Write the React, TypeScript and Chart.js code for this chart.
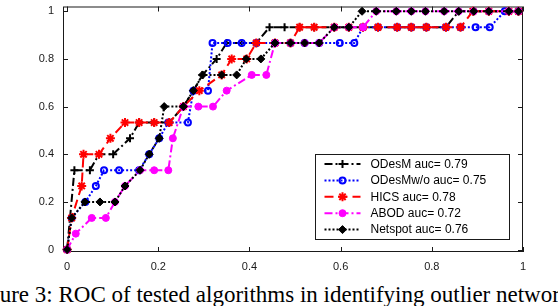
import React, { useEffect, useRef } from 'react';
import { Chart, registerables } from 'chart.js';

Chart.register(...registerables);

// ---------- data ----------
const seriesLabels = [
  'ODesM auc= 0.79',
  'ODesMw/o auc= 0.75',
  'HICS auc= 0.78',
  'ABOD auc= 0.72',
  'Netspot auc= 0.76',
];

const odesmX = [0, 0.016, 0.05, 0.07, 0.101, 0.138, 0.158, 0.191, 0.224, 0.255, 0.277, 0.297, 0.328, 0.35, 0.383, 0.415, 0.444, 0.477, 0.51, 0.542, 0.586, 0.618, 0.649, 0.682, 0.724, 0.755, 0.788, 0.831, 0.859, 0.892, 0.925, 0.969, 0.99];
const odesmY = [0, 0.333, 0.333, 0.4, 0.4, 0.467, 0.533, 0.533, 0.533, 0.6, 0.667, 0.733, 0.8, 0.867, 0.867, 0.867, 0.933, 0.933, 0.933, 0.933, 0.933, 0.933, 0.933, 0.933, 0.933, 0.933, 0.933, 0.933, 1, 1, 1, 1, 1];

const odesmWoX = [0, 0.01, 0.04, 0.063, 0.081, 0.114, 0.158, 0.18, 0.202, 0.222, 0.265, 0.277, 0.309, 0.319, 0.352, 0.383, 0.415, 0.456, 0.49, 0.521, 0.553, 0.598, 0.63, 0.649, 0.682, 0.724, 0.755, 0.788, 0.831, 0.863, 0.896, 0.927, 0.96, 0.99];
const odesmWoY = [0, 0.133, 0.2, 0.267, 0.333, 0.333, 0.333, 0.4, 0.467, 0.533, 0.533, 0.667, 0.667, 0.867, 0.867, 0.867, 0.867, 0.867, 0.867, 0.867, 0.867, 0.867, 0.867, 0.933, 0.933, 0.933, 0.933, 0.933, 0.933, 0.933, 0.933, 0.933, 1, 1];

const hicsX = [0, 0.01, 0.032, 0.036, 0.07, 0.095, 0.127, 0.158, 0.191, 0.224, 0.255, 0.29, 0.339, 0.361, 0.394, 0.415, 0.456, 0.49, 0.51, 0.542, 0.586, 0.618, 0.649, 0.682, 0.724, 0.755, 0.788, 0.831, 0.863, 0.89, 0.925, 0.969, 0.99];
const hicsY = [0, 0.133, 0.267, 0.4, 0.4, 0.467, 0.533, 0.533, 0.533, 0.533, 0.6, 0.667, 0.733, 0.8, 0.8, 0.867, 0.867, 0.867, 0.933, 0.933, 0.933, 0.933, 0.933, 0.933, 0.933, 0.933, 0.933, 0.933, 0.933, 1, 1, 1, 1];

const abodX = [0, 0.019, 0.054, 0.085, 0.105, 0.127, 0.16, 0.191, 0.222, 0.232, 0.255, 0.288, 0.32, 0.35, 0.405, 0.437, 0.456, 0.49, 0.521, 0.553, 0.586, 0.618, 0.649, 0.678, 0.722, 0.755, 0.786, 0.827, 0.859, 0.892, 0.925, 0.969, 0.99];
const abodY = [0, 0.067, 0.133, 0.133, 0.2, 0.267, 0.333, 0.333, 0.333, 0.467, 0.6, 0.6, 0.6, 0.667, 0.733, 0.733, 0.867, 0.867, 0.867, 0.867, 0.933, 0.933, 0.933, 1, 1, 1, 1, 1, 1, 1, 1, 1, 1];

const netspotX = [0, 0.01, 0.039, 0.072, 0.105, 0.127, 0.16, 0.18, 0.202, 0.213, 0.255, 0.277, 0.297, 0.339, 0.372, 0.393, 0.425, 0.456, 0.49, 0.521, 0.553, 0.586, 0.618, 0.647, 0.678, 0.722, 0.755, 0.786, 0.827, 0.859, 0.892, 0.925, 0.969, 0.99];
const netspotY = [0, 0.133, 0.2, 0.2, 0.2, 0.267, 0.333, 0.4, 0.467, 0.6, 0.6, 0.667, 0.733, 0.733, 0.733, 0.8, 0.8, 0.867, 0.867, 0.867, 0.867, 0.933, 0.933, 1, 1, 1, 1, 1, 1, 1, 1, 1, 1, 1];

const xTickValues = [0, 0.2, 0.4, 0.6, 0.8, 1];
const xTickLabels = ['0', '0.2', '0.4', '0.6', '0.8', '1'];
const yTickValues = [0, 0.2, 0.4, 0.6, 0.8, 1];
const yTickLabels = ['0', '0.2', '0.4', '0.6', '0.8', '1'];

const captionText = 'Figure 3: ROC of tested algorithms in identifying outlier network';

// ---------- styles ----------
const seriesStyles = [
  { color: '#000000', dash: [8, 3, 2, 3], marker: 'cross', radius: 4, fill: 'rgba(0,0,0,0)', mw: 2 },
  { color: '#0000ff', dash: [2, 2], marker: 'circle', radius: 3, fill: 'rgba(0,0,0,0)', mw: 2 },
  { color: '#ff0000', dash: [9, 5], marker: 'star', radius: 4.5, fill: 'rgba(0,0,0,0)', mw: 2 },
  { color: '#ff00ff', dash: [8, 3, 2, 3], marker: 'circle', radius: 3.5, fill: '#ff00ff', mw: 1 },
  { color: '#000000', dash: [2, 2], marker: 'rectRot', radius: 4, fill: '#000000', mw: 1 },
];

const FONT = "'Liberation Sans', Arial, Helvetica, sans-serif";
const AXIS_COLOR = '#1a1a1a';

const toPoints = (xs: number[], ys: number[]) => xs.map((x, i) => ({ x, y: ys[i] }));

function drawMarker(ctx: CanvasRenderingContext2D, style: string, x: number, y: number, r: number, fill: string, stroke: string, bw: number) {
  ctx.save();
  ctx.setLineDash([]);
  ctx.lineWidth = bw;
  ctx.strokeStyle = stroke;
  ctx.fillStyle = fill;
  ctx.beginPath();
  if (style === 'circle') {
    ctx.arc(x, y, r, 0, Math.PI * 2);
    ctx.fill();
    ctx.stroke();
  } else if (style === 'rectRot') {
    ctx.moveTo(x - r, y);
    ctx.lineTo(x, y - r);
    ctx.lineTo(x + r, y);
    ctx.lineTo(x, y + r);
    ctx.closePath();
    ctx.fill();
    ctx.stroke();
  } else if (style === 'cross') {
    ctx.moveTo(x - r, y);
    ctx.lineTo(x + r, y);
    ctx.moveTo(x, y - r);
    ctx.lineTo(x, y + r);
    ctx.stroke();
  } else if (style === 'star') {
    const d = r * Math.SQRT1_2;
    ctx.moveTo(x - r, y);
    ctx.lineTo(x + r, y);
    ctx.moveTo(x, y - r);
    ctx.lineTo(x, y + r);
    ctx.moveTo(x - d, y - d);
    ctx.lineTo(x + d, y + d);
    ctx.moveTo(x - d, y + d);
    ctx.lineTo(x + d, y - d);
    ctx.stroke();
  }
  ctx.restore();
}

const framePlugin = {
  id: 'matlabFrame',
  beforeDatasetsDraw(chart: any) {
    const { ctx, chartArea } = chart;
    const { left, top, right, bottom } = chartArea;
    const xs = chart.scales.x;
    const ys = chart.scales.y;
    ctx.save();
    ctx.strokeStyle = AXIS_COLOR;
    ctx.lineWidth = 1;
    ctx.setLineDash([]);
    ctx.strokeRect(left + 0.5, top + 0.5, right - left - 1, bottom - top - 1);
    ctx.beginPath();
    const tl = 5;
    xTickValues.forEach((v) => {
      const px = Math.round(xs.getPixelForValue(v)) + 0.5;
      ctx.moveTo(px, bottom);
      ctx.lineTo(px, bottom - tl);
      ctx.moveTo(px, top);
      ctx.lineTo(px, top + tl);
    });
    yTickValues.forEach((v) => {
      const py = Math.round(ys.getPixelForValue(v)) + 0.5;
      ctx.moveTo(left, py);
      ctx.lineTo(left + tl, py);
      ctx.moveTo(right, py);
      ctx.lineTo(right - tl, py);
    });
    ctx.stroke();
    ctx.restore();
  },
};

const legendPlugin = {
  id: 'matlabLegend',
  afterDraw(chart: any) {
    const { ctx, chartArea } = chart;
    const right = chartArea.right - 13.5;
    const bottom = chartArea.bottom - 12.5;
    const left = 315.5;
    const rowH = 16.4;
    const n = seriesLabels.length;
    const top = bottom - n * rowH - 3;
    ctx.save();
    ctx.fillStyle = '#ffffff';
    ctx.fillRect(left, top, right - left, bottom - top);
    ctx.strokeStyle = AXIS_COLOR;
    ctx.lineWidth = 1;
    ctx.strokeRect(left, top, right - left, bottom - top);
    ctx.font = `12px ${FONT}`;
    ctx.textBaseline = 'middle';
    ctx.textAlign = 'left';
    for (let i = 0; i < n; i++) {
      const st = seriesStyles[i];
      const cy = top + 9.5 + i * rowH;
      ctx.save();
      ctx.strokeStyle = st.color;
      ctx.lineWidth = 2;
      ctx.setLineDash(st.dash);
      ctx.beginPath();
      ctx.moveTo(left + 9, cy);
      ctx.lineTo(left + 45, cy);
      ctx.stroke();
      ctx.restore();
      drawMarker(ctx, st.marker, left + 27, cy, st.radius, st.fill, st.color, st.mw);
      ctx.fillStyle = '#000000';
      ctx.fillText(seriesLabels[i], left + 55, cy + 0.5);
    }
    ctx.restore();
  },
};

export default function App() {
  const canvasRef = useRef<HTMLCanvasElement | null>(null);

  useEffect(() => {
    const canvas = canvasRef.current;
    if (!canvas) return;
    const xsList = [odesmX, odesmWoX, hicsX, abodX, netspotX];
    const ysList = [odesmY, odesmWoY, hicsY, abodY, netspotY];
    const datasets = seriesLabels.map((label, i) => {
      const st = seriesStyles[i];
      return {
        label,
        data: toPoints(xsList[i], ysList[i]),
        borderColor: st.color,
        backgroundColor: st.fill,
        borderWidth: 2,
        borderDash: st.dash,
        pointStyle: st.marker,
        pointRadius: st.radius,
        pointBorderWidth: st.mw,
        pointBorderColor: st.color,
        pointBackgroundColor: st.fill,
        tension: 0,
        fill: false,
        clip: false as any,
        order: seriesLabels.length - 1 - i,
      };
    });

    const tickFont = { family: FONT, size: 11 };

    const chart = new Chart(canvas, {
      type: 'line',
      data: { datasets: datasets as any },
      options: {
        responsive: false,
        animation: false,
        events: [],
        layout: { padding: { left: 0, right: 35, top: 1, bottom: 0 } },
        plugins: {
          legend: { display: false },
          tooltip: { enabled: false },
        },
        scales: {
          x: {
            type: 'linear',
            min: -0.009,
            max: 1.0,
            grid: { display: false, drawTicks: false },
            border: { display: false },
            afterBuildTicks: (s: any) => {
              s.ticks = xTickValues.map((v) => ({ value: v }));
            },
            afterFit: (s: any) => {
              s.height = 28;
              s.paddingLeft = 0;
              s.paddingRight = 0;
            },
            ticks: {
              padding: 8,
              color: '#1a1a1a',
              font: tickFont,
              maxRotation: 0,
              autoSkip: false,
              callback: (v: any) => xTickLabels[xTickValues.indexOf(Number(v))] ?? '',
            },
          },
          y: {
            type: 'linear',
            min: -0.01,
            max: 1.02,
            grid: { display: false, drawTicks: false },
            border: { display: false },
            afterBuildTicks: (s: any) => {
              s.ticks = yTickValues.map((v) => ({ value: v }));
            },
            afterFit: (s: any) => {
              s.width = 63;
              s.paddingTop = 0;
              s.paddingBottom = 0;
            },
            ticks: {
              padding: 9,
              color: '#1a1a1a',
              font: tickFont,
              autoSkip: false,
              callback: (v: any) => yTickLabels[yTickValues.indexOf(Number(v))] ?? '',
            },
          },
        },
      },
      plugins: [framePlugin, legendPlugin],
    });
    return () => chart.destroy();
  }, []);

  return (
    <div style={{ position: 'absolute', left: 0, top: 0, width: 558, height: 306, overflow: 'hidden', background: '#ffffff' }}>
      <canvas ref={canvasRef} width={558} height={280} style={{ display: 'block' }} />
      <div
        style={{
          position: 'absolute',
          left: -31,
          top: 283,
          fontFamily: "'Liberation Serif', 'Times New Roman', serif",
          fontSize: 23,
          lineHeight: '23px',
          whiteSpace: 'nowrap',
          color: '#000000',
        }}
      >
        {captionText}
      </div>
    </div>
  );
}
